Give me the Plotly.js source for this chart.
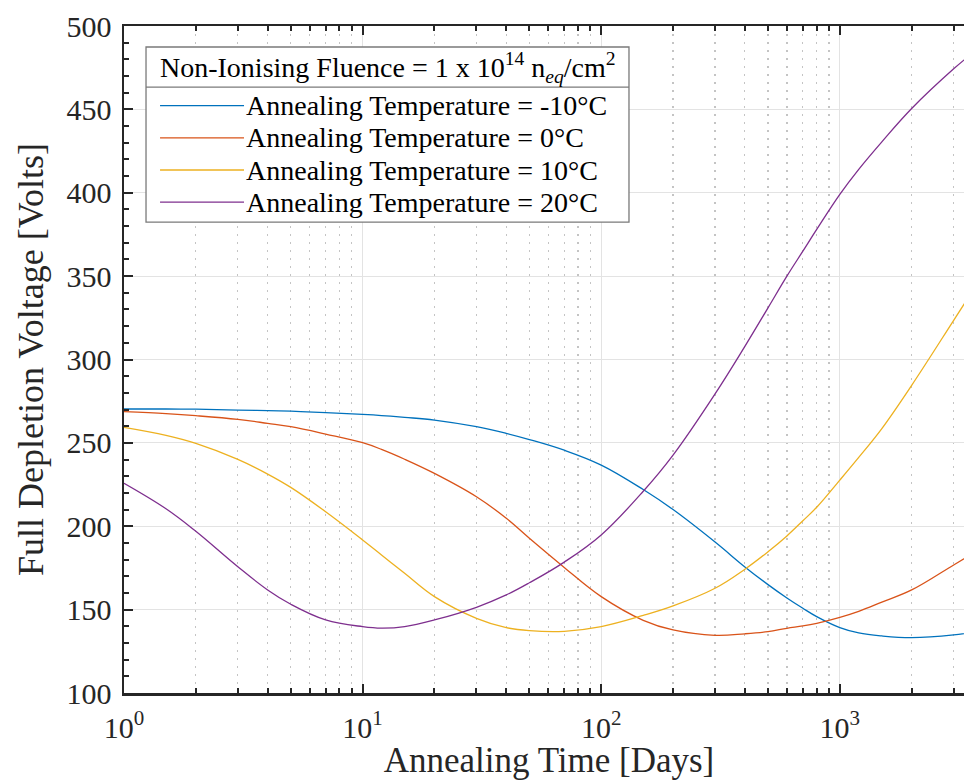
<!DOCTYPE html>
<html>
<head>
<meta charset="utf-8">
<script src="https://cdn.plot.ly/plotly-3.0.1.min.js"></script>
<style>
  html, body { margin: 0; padding: 0; overflow: hidden; background: #ffffff; }
  #chart { width: 980px; height: 780px; }
</style>
</head>
<body>
<div id="chart"></div>
<script>
// ---- data ----
const annealingDays = [1, 1.5, 2, 3, 4, 5, 7, 10, 12, 15, 20, 30, 40, 50, 70, 100, 150, 200, 300, 400, 500, 600, 700, 800, 1000, 1200, 1500, 2000, 3000, 3650];
const vMinus10 = [270.3, 270.3, 270.2, 269.7, 269.4, 269.0, 268.2, 267.1, 266.4, 265.3, 263.7, 259.7, 255.7, 252.0, 245.6, 236.7, 222.0, 210.0, 190.5, 175.6, 165.0, 157.0, 150.8, 145.8, 139.2, 136.0, 134.2, 133.2, 134.8, 136.5];
const v0 = [268.7, 267.5, 266.3, 264.1, 261.7, 259.7, 255.3, 250.1, 246.1, 240.2, 231.7, 217.7, 204.8, 192.8, 175.3, 157.8, 143.6, 137.8, 134.6, 135.5, 136.8, 138.8, 140.2, 141.8, 145.4, 149.0, 154.5, 161.8, 176.8, 184.0];
const v10 = [259.3, 254.5, 249.7, 240.1, 231.3, 223.3, 208.7, 191.8, 182.8, 171.8, 157.8, 144.8, 139.2, 137.4, 137.0, 139.8, 146.5, 152.2, 162.8, 174.2, 184.7, 194.2, 203.3, 211.4, 227.7, 241.3, 258.6, 284.5, 323.5, 342.5];
const v20 = [225.8, 210.5, 197.0, 175.7, 161.8, 153.2, 143.8, 139.8, 138.9, 139.8, 143.8, 151.4, 158.8, 166.1, 178.5, 194.8, 221.0, 242.7, 279.4, 307.9, 331.0, 350.0, 365.0, 378.0, 399.0, 414.0, 430.5, 450.5, 474.3, 484.5];

const seriesNames = [
  'Annealing Temperature = -10°C',
  'Annealing Temperature = 0°C',
  'Annealing Temperature = 10°C',
  'Annealing Temperature = 20°C'
];
const seriesValues = [vMinus10, v0, v10, v20];
const seriesColors = ['#0072BD', '#D95319', '#EDB120', '#7E2F8E'];

const legendTitle = 'Non-Ionising Fluence = 1 x 10<sup>14</sup> n<sub><i>eq</i></sub>/cm<sup>2</sup>';
const xTickVals = [1, 10, 100, 1000];
const xTickText = ['10<sup>0</sup>', '10<sup>1</sup>', '10<sup>2</sup>', '10<sup>3</sup>'];
const xMin = 1, xMax = 3650;
const yMin = 100, yMax = 500;
const xTitle = 'Annealing Time [Days]';
const yTitle = 'Full Depletion Voltage [Volts]';

// minor log tick positions (2..9 of each decade within range)
const xMinorVals = [];
for (let d = 1; d <= 1000; d *= 10) {
  for (let k = 2; k <= 9; k++) { if (k * d <= xMax) xMinorVals.push(k * d); }
}

const FONT = 'Liberation Serif, Times New Roman, serif';
const INK = '#262626';
const BOX = '#7a7a7a';

const traces = seriesValues.map((vals, i) => ({
  type: 'scatter',
  mode: 'lines',
  x: annealingDays,
  y: vals,
  name: seriesNames[i],
  showlegend: false,
  line: { color: seriesColors[i], width: 1.3, shape: 'spline', smoothing: 1.1 }
}));

// ---- boxed legend (legend layout in paper coordinates) ----
const LG = { x0: 0.0259, x1: 0.5941, y0: 0.7061, y1: 0.9685, sep: 0.9085,
             lineX0: 0.0424, lineX1: 0.1412, textX: 0.1415, rowTop: 0.8805, rowStep: 0.0482, titleY: 0.9385 };
const shapes = [
  { type: 'rect', xref: 'paper', yref: 'paper', x0: LG.x0, x1: LG.x1, y0: LG.y0, y1: LG.y1,
    fillcolor: '#ffffff', line: { color: BOX, width: 1.3 }, layer: 'above' },
  { type: 'line', xref: 'paper', yref: 'paper', x0: LG.x0, x1: LG.x1, y0: LG.sep, y1: LG.sep,
    line: { color: BOX, width: 1.3 }, layer: 'above' }
];
const annotations = [
  { xref: 'paper', yref: 'paper', x: (LG.x0 + LG.x1) / 2, y: LG.titleY, xanchor: 'center', yanchor: 'middle',
    text: legendTitle, showarrow: false, font: { family: FONT, size: 28, color: '#000000' } }
];
seriesNames.forEach((name, i) => {
  const yy = LG.rowTop - i * LG.rowStep;
  shapes.push({ type: 'line', xref: 'paper', yref: 'paper', x0: LG.lineX0, x1: LG.lineX1, y0: yy, y1: yy,
    line: { color: seriesColors[i], width: 1.3 }, layer: 'above' });
  annotations.push({ xref: 'paper', yref: 'paper', x: LG.textX, y: yy, xanchor: 'left', yanchor: 'middle',
    text: name, showarrow: false, font: { family: FONT, size: 28, color: '#000000' } });
});

const layout = {
  width: 980,
  height: 780,
  margin: { l: 124, r: 6, t: 26, b: 87, pad: 0 },
  paper_bgcolor: '#ffffff',
  plot_bgcolor: '#ffffff',
  font: { family: FONT, color: INK },
  showlegend: false,
  xaxis: {
    type: 'log',
    range: [Math.log10(xMin), Math.log10(xMax)],
    tickmode: 'array', tickvals: xTickVals, ticktext: xTickText,
    ticks: 'inside', ticklen: 9, tickwidth: 2, tickcolor: INK,
    showline: true, linecolor: INK, linewidth: 2.5, mirror: 'ticks',
    showgrid: true, gridcolor: '#e3e3e3', gridwidth: 1,
    zeroline: false,
    tickfont: { family: FONT, size: 30, color: INK },
    ticklabelstandoff: 6,
    minor: {
      tickmode: 'array', tickvals: xMinorVals,
      ticks: 'inside', ticklen: 5, tickwidth: 2, tickcolor: INK,
      showgrid: true, gridcolor: '#c4c4c4', gridwidth: 1.2, griddash: '2px,6px'
    },
    title: { text: xTitle, font: { family: FONT, size: 35, color: INK }, standoff: 9 }
  },
  yaxis: {
    range: [yMin, yMax],
    tickmode: 'linear', tick0: 100, dtick: 50,
    ticks: 'inside', ticklen: 9, tickwidth: 2, tickcolor: INK,
    showline: true, linecolor: INK, linewidth: 2.5, mirror: 'ticks',
    showgrid: true, gridcolor: '#e3e3e3', gridwidth: 1,
    zeroline: false,
    tickfont: { family: FONT, size: 30, color: INK },
    ticklabelstandoff: 4,
    minor: {
      tickmode: 'linear', dtick: 10,
      ticks: 'inside', ticklen: 5, tickwidth: 2, tickcolor: INK,
      showgrid: false
    },
    title: { text: yTitle, font: { family: FONT, size: 36, color: INK }, standoff: 12 }
  },
  shapes: shapes,
  annotations: annotations
};

Plotly.newPlot('chart', traces, layout, { displayModeBar: false, staticPlot: true });
</script>
</body>
</html>
